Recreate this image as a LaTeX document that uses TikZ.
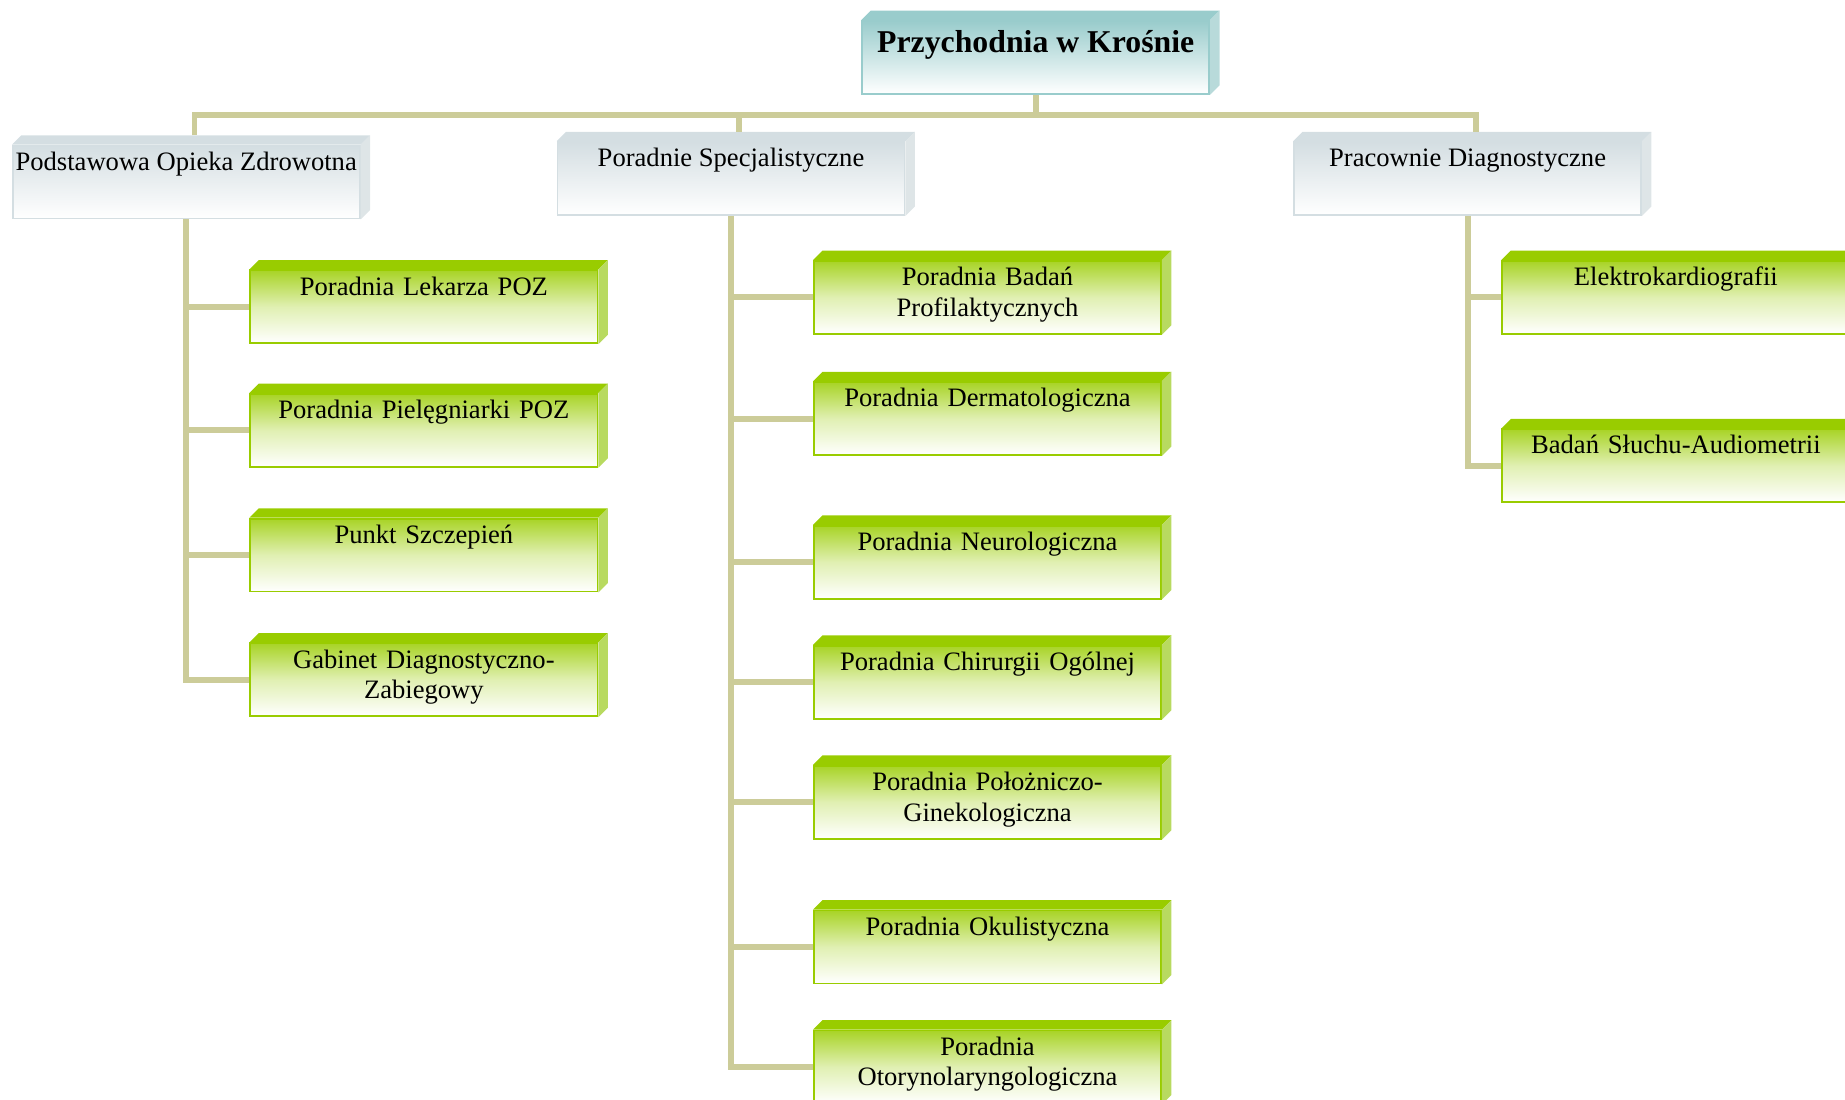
\documentclass[tikz,border=0pt]{standalone}
\usepackage{fontspec}
\setmainfont{Liberation Serif}
\definecolor{linktan}{RGB}{204,204,153}
\definecolor{leafgreen}{RGB}{153,204,0}
\definecolor{leafside}{RGB}{184,218,96}
\definecolor{sectgray}{RGB}{212,222,226}
\definecolor{sectside}{RGB}{222,229,231}
\definecolor{headteal}{RGB}{153,204,204}
\definecolor{headside}{RGB}{184,218,218}
\tikzset{
  box/.style={rectangle, anchor=north west, minimum width=147.5pt, minimum height=31pt, inner xsep=1pt, inner ysep=1.5pt, text height=9pt, text depth=19pt, line width=0.75pt, font=\fontsize{11.3}{13}\selectfont},
  head/.style={box, draw=headteal, top color=headteal, bottom color=white, text height=12pt, text depth=16pt, font=\bfseries\fontsize{13.5}{16}\selectfont},
  sect/.style={box, draw=sectgray, top color=sectgray, bottom color=white},
  leaf/.style={box, draw=leafgreen, top color=leafgreen!85!white, bottom color=white, middle color=leafgreen!30!white, text width=140pt, inner xsep=3.75pt, align=center}
}
\tikzstyle{link} = [linktan, line width=2.5pt]

\begin{document}
\begin{tikzpicture}[x=0.5pt, y=-0.5pt]
    \useasboundingbox (0,0) rectangle (1568,934);

    \node [head] (przych) at (732,17)  {Przychodnia w Krośnie};
    \node [sect] (poz)    at (10,123)  {Podstawowa Opieka Zdrowotna};
    \node [sect] (spec)   at (473,120) {Poradnie Specjalistyczne};
    \node [sect] (diag)   at (1099,120) {Pracownie Diagnostyczne};

    \node [leaf] (poz1) at (212,229) {Poradnia Lekarza POZ};
    \node [leaf] (poz2) at (212,334) {Poradnia Pielęgniarki POZ};
    \node [leaf] (poz3) at (212,440) {Punkt Szczepień};
    \node [leaf] (poz4) at (212,546) {Gabinet Diagnostyczno-\\Zabiegowy};

    \node [leaf] (spec1) at (691,221) {Poradnia Badań\\Profilaktycznych};
    \node [leaf] (spec2) at (691,324) {Poradnia Dermatologiczna};
    \node [leaf] (spec3) at (691,446) {Poradnia Neurologiczna};
    \node [leaf] (spec4) at (691,548) {Poradnia Chirurgii Ogólnej};
    \node [leaf] (spec5) at (691,650) {Poradnia Położniczo-\\Ginekologiczna};
    \node [leaf] (spec6) at (691,773) {Poradnia Okulistyczna};
    \node [leaf] (spec7) at (691,875) {Poradnia\\Otorynolaryngologiczna};

    \node [leaf] (diag1) at (1276,221) {Elektrokardiografii};
    \node [leaf] (diag2) at (1276,364) {Badań Słuchu-Audiometrii};

    % top and side faces
    \foreach \n/\tc/\sc in {przych/headteal/headside, poz/sectgray/sectside, spec/sectgray/sectside, diag/sectgray/sectside,
        poz1/leafgreen/leafside, poz2/leafgreen/leafside, poz3/leafgreen/leafside, poz4/leafgreen/leafside,
        spec1/leafgreen/leafside, spec2/leafgreen/leafside, spec3/leafgreen/leafside, spec4/leafgreen/leafside,
        spec5/leafgreen/leafside, spec6/leafgreen/leafside, spec7/leafgreen/leafside,
        diag1/leafgreen/leafside, diag2/leafgreen/leafside} {
      \fill [\tc] (\n.north west) -- ++(4pt,4pt) -- ([shift={(4pt,4pt)}]\n.north east) -- (\n.north east) -- cycle;
      \fill [\sc] (\n.north east) -- ([shift={(4pt,4pt)}]\n.north east) -- ([shift={(4pt,4pt)}]\n.south east) -- (\n.south east) -- cycle;
    }

    % connectors
    \coordinate (bus) at ([yshift=-8.5pt]przych.south);
    \foreach \s in {poz,spec,diag}
      \coordinate (\s-in) at ([shift={(3.5pt,4pt)}]\s.north);
    \draw [link] (przych.south) -- (bus);
    \draw [link] (poz-in) |- (bus) -| (diag-in);
    \draw [link] (spec-in) -- (bus -| spec-in);

    \draw [link] (poz.south) |- (poz4.west);
    \foreach \k in {1,2,3}
      \draw [link] (poz.south |- poz\k.west) -- (poz\k.west);
    \draw [link] (spec.south) |- (spec7.west);
    \foreach \k in {1,...,6}
      \draw [link] (spec.south |- spec\k.west) -- (spec\k.west);
    \draw [link] (diag.south) |- (diag2.west);
    \draw [link] (diag.south |- diag1.west) -- (diag1.west);
\end{tikzpicture}
\end{document}
